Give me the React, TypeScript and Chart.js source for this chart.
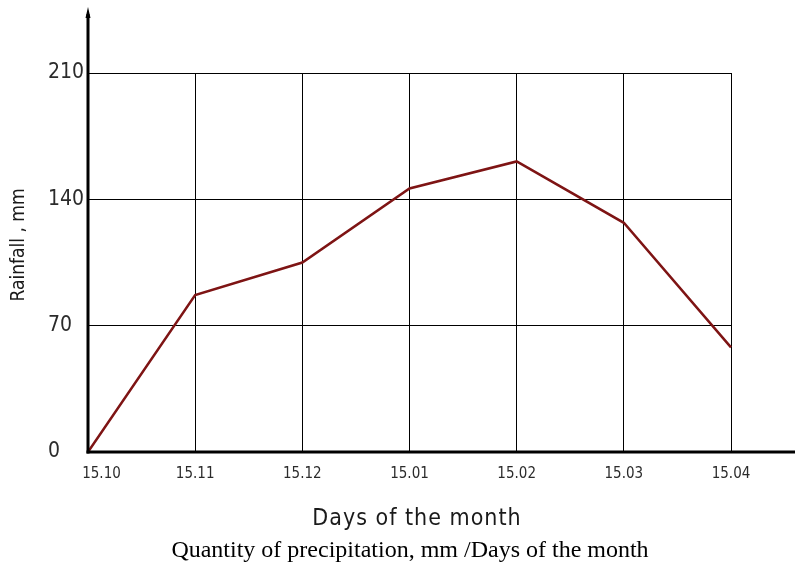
import React, { useEffect, useRef } from "react";
import { Chart, registerables } from "chart.js";

Chart.register(...registerables);

const categories = ["15.10", "15.11", "15.12", "15.01", "15.02", "15.03", "15.04"];
const rainfall = [0, 87, 105, 146, 161, 127, 58];
const yTicks = [0, 70, 140, 210];
const xTitle = "Days of the month";
const yTitle = "Rainfall , mm";
const caption = "Quantity of precipitation, mm /Days of the month";

const TECH_FONT = "'DejaVu Sans Condensed', 'Liberation Sans Narrow', sans-serif";

const decorPlugin = {
  id: "decor",
  afterDraw(chart: any) {
    const { ctx, chartArea } = chart;
    const { left, bottom } = chartArea;
    ctx.save();
    ctx.strokeStyle = "#000";
    ctx.fillStyle = "#000";
    ctx.lineWidth = 3;
    ctx.beginPath();
    ctx.moveTo(left, bottom + 1.5);
    ctx.lineTo(left, 14);
    ctx.stroke();
    ctx.beginPath();
    ctx.moveTo(left - 2.5, 18);
    ctx.lineTo(left, 7);
    ctx.lineTo(left + 2.5, 18);
    ctx.closePath();
    ctx.fill();
    ctx.beginPath();
    ctx.moveTo(left - 1.5, bottom);
    ctx.lineTo(chart.width - 1, bottom);
    ctx.stroke();

    ctx.fillStyle = "#1a1a1a";
    ctx.textAlign = "center";
    ctx.textBaseline = "middle";
    ctx.font = `300 23px ${TECH_FONT}`;
    (ctx as any).letterSpacing = "1px";
    ctx.fillText(xTitle, 417, 519);
    ctx.save();
    ctx.translate(19, 245);
    ctx.rotate(-Math.PI / 2);
    (ctx as any).letterSpacing = "0px";
    ctx.font = `300 19px ${TECH_FONT}`;
    ctx.fillText(yTitle, 0, 0);
    ctx.restore();
    (ctx as any).letterSpacing = "0px";
    ctx.fillStyle = "#000";
    ctx.font = "24px 'Liberation Serif', 'Times New Roman', serif";
    ctx.fillText(caption, 410, 551);
    ctx.restore();
  },
};

export default function App() {
  const ref = useRef<HTMLCanvasElement>(null);
  useEffect(() => {
    const canvas = ref.current;
    if (!canvas) return;
    const chart = new Chart(canvas, {
      type: "line",
      data: {
        labels: categories,
        datasets: [
          {
            data: rainfall,
            borderColor: "#7e1414",
            borderWidth: 2.5,
            pointRadius: 0,
            tension: 0,
            fill: false,
          },
        ],
      },
      options: {
        responsive: false,
        animation: false,
        devicePixelRatio: 1,
        layout: { padding: { left: 48, top: 73, right: 65, bottom: 0 } },
        plugins: { legend: { display: false }, tooltip: { enabled: false } },
        scales: {
          x: {
            type: "category",
            offset: false,
            border: { display: false },
            grid: { color: "#000", lineWidth: 1, drawTicks: false },
            ticks: {
              padding: 13,
              color: "#2b2b2b",
              font: { family: TECH_FONT, size: 15 },
              maxRotation: 0,
              autoSkip: false,
              callback: (_v: any, i: number) =>
                i === 0 ? "\u2002\u2002\u2002\u2002" + categories[i] : categories[i],
            },
            afterFit: (s: any) => {
              s.height = 113;
            },
          },
          y: {
            min: 0,
            max: 210,
            border: { display: false },
            grid: { color: "#000", lineWidth: 1, drawTicks: false },
            afterBuildTicks: (s: any) => {
              s.ticks = yTicks.map((v) => ({ value: v }));
            },
            ticks: {
              padding: 8,
              crossAlign: "far",
              color: "#2b2b2b",
              font: { family: TECH_FONT, size: 21 },
            },
            afterFit: (s: any) => {
              s.width = 40;
            },
          },
        },
      },
      plugins: [decorPlugin],
    });
    return () => chart.destroy();
  }, []);
  return (
    <div style={{ position: "fixed", left: 0, top: 0, width: 796, height: 565, background: "#fff" }}>
      <canvas ref={ref} width={796} height={565} style={{ width: 796, height: 565, display: "block" }} />
    </div>
  );
}
